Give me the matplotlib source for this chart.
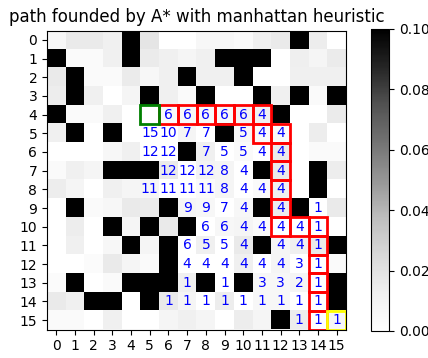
import numpy as np
import matplotlib
matplotlib.use("Agg")
import matplotlib.pyplot as plt
from matplotlib.patches import Rectangle

grid = [
    [0.007, 0.016, 0.016, 0.012, 0.1, 0.018, 0, 0, 0.007, 0.006, 0.004, 0.012, 0.016, 0.1, 0.014, 0],
    [0.1, 0.004, 0.004, 0.012, 0.1, 0.015, 0.012, 0.008, 0.012, 0.1, 0.1, 0.1, 0, 0.013, 0.008, 0.015],
    [0.016, 0.1, 0.004, 0.004, 0.015, 0.006, 0.012, 0.1, 0.012, 0.012, 0.1, 0, 0, 0.012, 0.012, 0.012],
    [0.014, 0.1, 0.012, 0, 0.008, 0.1, 0.012, 0.004, 0.1, 0, 0, 0.1, 0.012, 0.1, 0.004, 0.1],
    [0.1, 0.004, 0.004, 0.012, 0, 0, 0.004, 0.007, 0.006, 0.007, 0.01, 0.012, 0.1, 0, 0, 0.015],
    [0.012, 0.1, 0, 0.1, 0, 0, 0, 0.008, 0, 0.1, 0.006, 0.004, 0.004, 0, 0.014, 0],
    [0, 0, 0, 0.006, 0.012, 0, 0, 0.1, 0.012, 0, 0.004, 0, 0.016, 0, 0.004, 0.004],
    [0.004, 0.012, 0.008, 0.1, 0.1, 0.1, 0.016, 0, 0.01, 0.008, 0, 0.1, 0.016, 0, 0.1, 0.014],
    [0.014, 0.008, 0, 0.012, 0.008, 0.008, 0, 0, 0.004, 0.008, 0, 0.004, 0.012, 0, 0.1, 0],
    [0, 0.1, 0.004, 0.006, 0.016, 0.015, 0.1, 0.008, 0.006, 0, 0.006, 0.1, 0.014, 0.1, 0, 0.016],
    [0, 0.014, 0, 0.1, 0.008, 0.1, 0.016, 0.1, 0, 0.006, 0.008, 0.004, 0, 0, 0, 0],
    [0, 0.012, 0, 0.006, 0.1, 0.008, 0.1, 0, 0.012, 0, 0.016, 0.1, 0.008, 0.012, 0.016, 0.1],
    [0, 0, 0.003, 0.016, 0.008, 0.004, 0.1, 0, 0, 0, 0.012, 0, 0.008, 0, 0, 0.004],
    [0.003, 0.1, 0, 0.004, 0.1, 0.1, 0.1, 0.012, 0.1, 0, 0.1, 0.006, 0.006, 0.008, 0, 0.1],
    [0.016, 0.012, 0.1, 0.1, 0, 0.1, 0.016, 0.008, 0, 0.014, 0, 0.006, 0.006, 0, 0, 0.1],
    [0.004, 0.004, 0, 0.012, 0, 0, 0.008, 0.012, 0.008, 0, 0.014, 0.008, 0.1, 0.014, 0, 0.006],
]

# (row, col, label)
labels = [
    (4, 6, 6), (4, 7, 6), (4, 8, 6), (4, 9, 6), (4, 10, 6), (4, 11, 4),
    (5, 5, 15), (5, 6, 10), (5, 7, 7), (5, 8, 7), (5, 10, 5), (5, 11, 4), (5, 12, 4),
    (6, 5, 12), (6, 6, 12), (6, 8, 7), (6, 9, 5), (6, 10, 5), (6, 11, 4), (6, 12, 4),
    (7, 6, 12), (7, 7, 12), (7, 8, 12), (7, 9, 8), (7, 10, 4), (7, 12, 4),
    (8, 5, 11), (8, 6, 11), (8, 7, 11), (8, 8, 11), (8, 9, 8), (8, 10, 4), (8, 11, 4), (8, 12, 4),
    (9, 7, 9), (9, 8, 9), (9, 9, 7), (9, 10, 4), (9, 12, 4), (9, 14, 1),
    (10, 8, 6), (10, 9, 6), (10, 10, 4), (10, 11, 4), (10, 12, 4), (10, 13, 4), (10, 14, 1),
    (11, 7, 6), (11, 8, 5), (11, 9, 5), (11, 10, 4), (11, 12, 4), (11, 13, 4), (11, 14, 1),
    (12, 7, 4), (12, 8, 4), (12, 9, 4), (12, 10, 4), (12, 11, 4), (12, 12, 4), (12, 13, 3), (12, 14, 1),
    (13, 7, 1), (13, 9, 1), (13, 11, 3), (13, 12, 3), (13, 13, 2), (13, 14, 1),
    (14, 6, 1), (14, 7, 1), (14, 8, 1), (14, 9, 1), (14, 10, 1), (14, 11, 1), (14, 12, 1), (14, 13, 1), (14, 14, 1),
    (15, 13, 1), (15, 14, 1), (15, 15, 1),
]

path = [(4, 6), (4, 7), (4, 8), (4, 9), (4, 10), (4, 11), (5, 11), (5, 12), (6, 12),
        (7, 12), (8, 12), (9, 12), (10, 12), (10, 13), (10, 14), (11, 14), (12, 14),
        (13, 14), (14, 14), (15, 14)]
start = (4, 5)
goal = (15, 15)
ticks = list(range(16))

fig = plt.figure(figsize=(4.28, 3.58), dpi=100)
ax = fig.add_axes([47/428, 27/358, 299/428, 302/358])
cax = fig.add_axes([371/428, 27/358, 18/428, 302/358])

data = np.array(grid)
im = ax.imshow(data, cmap="Greys", vmin=0, vmax=0.1)
ax.set_xticks(ticks)
ax.set_yticks(ticks)
ax.set_xticklabels([str(t) for t in ticks])
ax.set_yticklabels([str(t) for t in ticks])
ax.tick_params(labelsize=10)
ax.set_title("path founded by A* with manhattan heuristic", fontsize=12)

for r, c, v in labels:
    ax.text(c, r, str(v), color="blue", ha="center", va="center", fontsize=10)

for r, c in path:
    ax.add_patch(Rectangle((c - 0.5, r - 0.5), 1, 1, fill=False, edgecolor="red", lw=2))
ax.add_patch(Rectangle((start[1] - 0.5, start[0] - 0.5), 1, 1, fill=False, edgecolor="green", lw=2))
ax.add_patch(Rectangle((goal[1] - 0.5, goal[0] - 0.5), 1, 1, fill=False, edgecolor="yellow", lw=2))

cb = fig.colorbar(im, cax=cax)
cb.set_ticks([0, 0.02, 0.04, 0.06, 0.08, 0.10])
cb.ax.set_yticklabels(["0.00", "0.02", "0.04", "0.06", "0.08", "0.10"])
cb.ax.tick_params(labelsize=10)

fig.savefig("out.png", dpi=100)
